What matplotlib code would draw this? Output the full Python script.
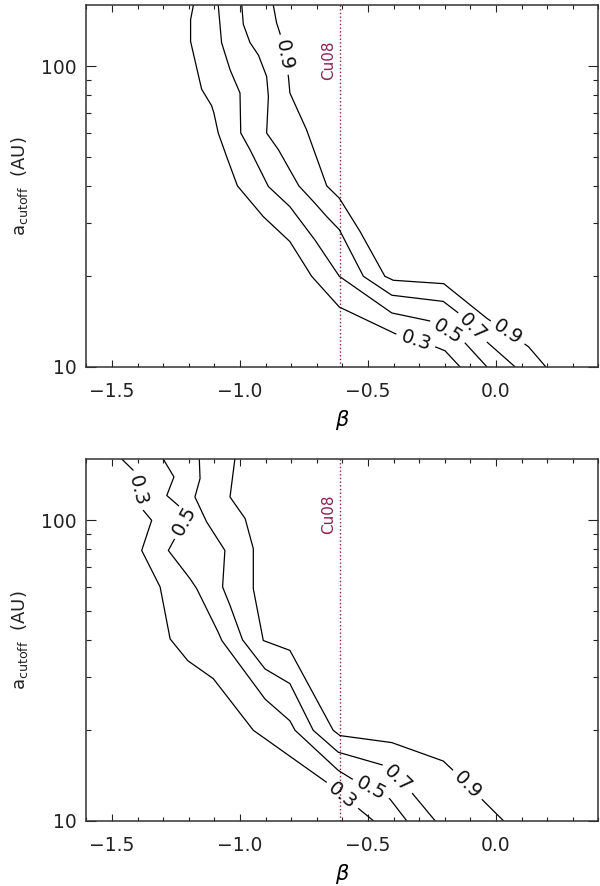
import numpy as np
import matplotlib
matplotlib.use('Agg')
import matplotlib.pyplot as plt
from matplotlib.ticker import MultipleLocator, FixedLocator, NullFormatter, FuncFormatter

plt.rcParams['font.family'] = ['DejaVu Sans']

# vertical reference line (Cu08)
cu08_beta = -0.61

# contour lines: beta vs a_cutoff (AU)
# top panel
top_03_beta = [-1.182, -1.193, -1.193, -1.15, -1.111, -1.102, -1.085, -1.052, -1.01, -0.909, -0.805, -0.72, -0.612, -0.395, -0.232, -0.199, -0.141]
top_03_a = [160, 143, 121, 84, 74, 70, 60, 50, 40, 31.6, 26.1, 20, 15.8, 12.9, 11.6, 11.3, 10]

top_05_beta = [-1.085, -1.072, -1.039, -1.0, -0.997, -0.961, -0.889, -0.805, -0.707, -0.612, -0.407, -0.258, -0.121, -0.036]
top_05_a = [160, 120, 97.5, 81.5, 60, 52.8, 39.8, 34.1, 26.4, 20, 15.1, 14.2, 12.0, 10]

top_07_beta = [-0.993, -0.987, -0.961, -0.928, -0.896, -0.889, -0.896, -0.85, -0.77, -0.707, -0.661, -0.612, -0.518, -0.407, -0.206, -0.147, -0.036, 0.074]
top_07_a = [160, 138, 120, 109, 92.6, 79.4, 60, 52.8, 40, 35, 31.6, 28.6, 20, 17.3, 16.5, 15.1, 12.1, 10]

top_09_beta = [-0.87, -0.857, -0.844, -0.811, -0.805, -0.74, -0.661, -0.612, -0.531, -0.434, -0.401, -0.204, -0.036, 0.127, 0.194]
top_09_a = [160, 139.5, 129, 92.6, 81.5, 61.5, 40, 36.4, 28.2, 20, 19.4, 18.9, 14.5, 11.66, 10]

# bottom panel
bot_03_beta = [-1.462, -1.417, -1.378, -1.345, -1.384, -1.312, -1.273, -1.204, -1.104, -0.948, -0.655, -0.544, -0.479]
bot_03_a = [160, 146.8, 108, 100, 79.4, 60, 40.3, 34.1, 29.7, 20, 13.3, 11.1, 10]

bot_05_beta = [-1.30, -1.258, -1.286, -1.234, -1.202, -1.28, -1.195, -1.169, -1.085, -1.071, -0.902, -0.805, -0.785, -0.616, -0.564, -0.414, -0.349]
bot_05_a = [160, 139.5, 121, 110.7, 105.3, 79.4, 63.9, 59.2, 42.4, 39.8, 25.4, 21.5, 20, 14.7, 13.8, 11.8, 10]

bot_07_beta = [-1.159, -1.156, -1.176, -1.13, -1.059, -1.068, -1.039, -0.99, -0.902, -0.805, -0.714, -0.616, -0.44, -0.329, -0.238]
bot_07_a = [160, 137.8, 119.6, 98.7, 79.4, 60, 52.1, 40, 32, 28.6, 20, 16.9, 15.3, 12.4, 10]

bot_09_beta = [-1.02, -1.039, -0.98, -0.948, -0.948, -0.909, -0.805, -0.636, -0.609, -0.407, -0.206, -0.167, -0.056, 0.029]
bot_09_a = [160, 119.6, 101.4, 80.5, 59.2, 39.8, 36.9, 20, 19.2, 18.2, 15.8, 14.7, 11.8, 10]

# where the level labels sit: (segment index, fraction along segment)
top_label_pos = {0.3: [(13, 0.5)], 0.5: [(11, 0.5)], 0.7: [(15, 0.5)], 0.9: [(2, 0.5), (12, 0.5)]}
bot_label_pos = {0.3: [(1, 0.5), (10, 0.5)], 0.5: [(4, 0.2), (14, 0.5)], 0.7: [(12, 0.5)], 0.9: [(11, 0.5)]}

top_lines = {0.3: (top_03_beta, top_03_a), 0.5: (top_05_beta, top_05_a),
             0.7: (top_07_beta, top_07_a), 0.9: (top_09_beta, top_09_a)}
bot_lines = {0.3: (bot_03_beta, bot_03_a), 0.5: (bot_05_beta, bot_05_a),
             0.7: (bot_07_beta, bot_07_a), 0.9: (bot_09_beta, bot_09_a)}

maroon = '#8e2050'
gap = 21  # half width (px) of the blank around a label


def at_arc(pts, cum, s):
    i = int(np.clip(np.searchsorted(cum, s, side='right') - 1, 0, len(pts) - 2))
    t = (s - cum[i]) / (cum[i + 1] - cum[i])
    return pts[i] + t * (pts[i + 1] - pts[i])


def draw_level(ax, beta, a, level, label_pos):
    pts = ax.transData.transform(np.column_stack([beta, a]))
    seg = np.hypot(*np.diff(pts, axis=0).T)
    cum = np.concatenate([[0], np.cumsum(seg)])
    cuts = []
    for k, t in label_pos:
        s = cum[k] + t * seg[k]
        c = pts[k] + t * (pts[k + 1] - pts[k])
        d = pts[k + 1] - pts[k]
        ang = np.degrees(np.arctan2(d[1], d[0]))
        if ang > 90:
            ang -= 180
        elif ang < -90:
            ang += 180
        cx, cy = ax.transData.inverted().transform(c)
        ax.text(cx, cy, '%.1f' % level, rotation=ang, rotation_mode='anchor',
                ha='center', va='center', fontsize=14, color='#111')
        cuts.append((s - gap, s + gap))
    cuts.sort()
    starts = [0] + [c[1] for c in cuts]
    ends = [c[0] for c in cuts] + [cum[-1]]
    for s0, s1 in zip(starts, ends):
        inner = [pts[j] for j in range(len(pts)) if s0 < cum[j] < s1]
        piece = np.array([at_arc(pts, cum, s0)] + inner + [at_arc(pts, cum, s1)])
        xy = ax.transData.inverted().transform(piece)
        ax.plot(xy[:, 0], xy[:, 1], color='k', lw=0.9)


def setup(ax):
    ax.set_yscale('log')
    ax.set_xlim(-1.6, 0.4)
    ax.set_ylim(10, 160)
    ax.xaxis.set_major_locator(MultipleLocator(0.5))
    ax.xaxis.set_minor_locator(MultipleLocator(0.1))
    ax.yaxis.set_major_locator(FixedLocator([10, 100]))
    ax.yaxis.set_major_formatter(FuncFormatter(lambda v, p: '%d' % v))
    ax.yaxis.set_minor_formatter(NullFormatter())
    ax.tick_params(which='both', direction='in', top=True, right=True,
                   labelsize=13.5, labelcolor='#222', color='#222', width=0.8)
    ax.xaxis.set_tick_params(which='major', length=5, pad=11)
    ax.xaxis.set_tick_params(which='minor', length=3)
    ax.yaxis.set_tick_params(which='major', length=7, pad=7)
    ax.yaxis.set_tick_params(which='minor', length=3.6)
    for sp in ax.spines.values():
        sp.set_color('#333')
        sp.set_linewidth(1.1)
    ax.set_xlabel(r'$\beta$', fontsize=15, labelpad=5)
    ax.set_ylabel(r'a$_{\mathrm{cutoff}}$  (AU)', fontsize=13, labelpad=8, color='#222')
    ax.axvline(cu08_beta, color=maroon, ls=':', lw=1.0)
    ax.annotate('Cu08', xy=(cu08_beta, 105), xytext=(-3, 0), textcoords='offset points',
                rotation=90, ha='right', va='center', fontsize=11, color=maroon)


fig = plt.figure(figsize=(6, 8.86), dpi=100)
ax_top = fig.add_axes([0.144, 0.5861, 0.8533, 0.4082])
ax_bot = fig.add_axes([0.144, 0.0737, 0.8533, 0.4082])

for ax, lines, labels in [(ax_top, top_lines, top_label_pos), (ax_bot, bot_lines, bot_label_pos)]:
    setup(ax)
    for lev in [0.3, 0.5, 0.7, 0.9]:
        draw_level(ax, lines[lev][0], lines[lev][1], lev, labels[lev])

fig.savefig('out.png', dpi=100)
